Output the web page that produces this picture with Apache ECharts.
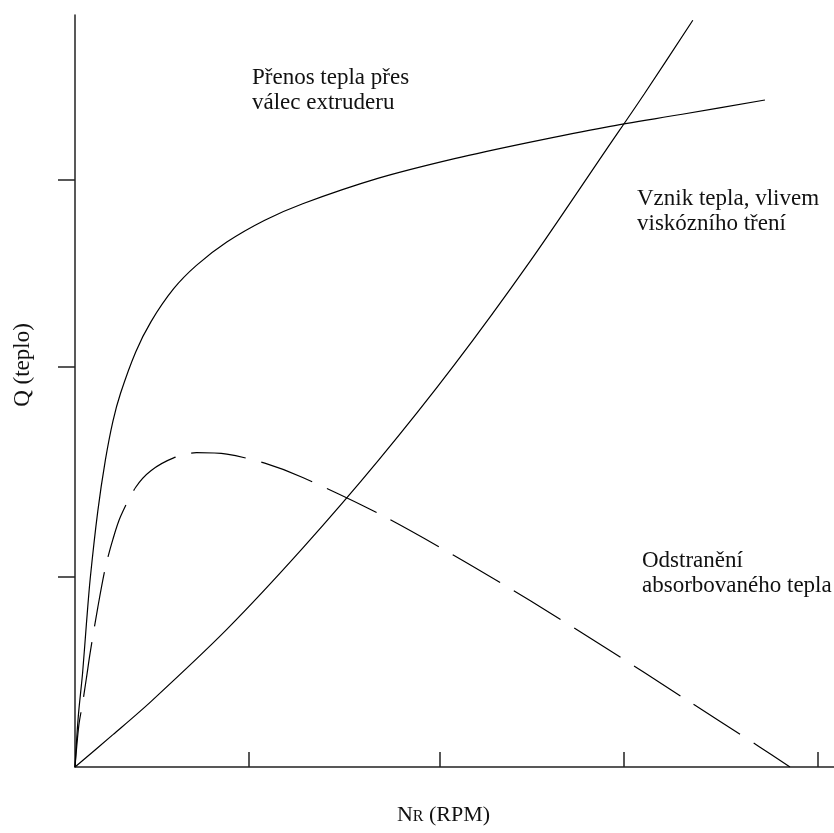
<!DOCTYPE html>
<html>
<head>
<meta charset="utf-8">
<title>Q vs NR</title>
<script src="https://cdn.jsdelivr.net/npm/echarts@6/dist/echarts.min.js"></script>
<style>
  html, body { margin: 0; padding: 0; background: #fff; }
  #chart { width: 834px; height: 833px; }
</style>
</head>
<body>
<div id="chart"></div>
<script>
// values, relative units 0..100 on both axes
var prenosX = [0, 0.25, 0.5, 1, 1.5, 2, 3, 4, 5, 6, 8, 10, 13, 16, 20, 25, 30, 40, 50, 60, 70, 80, 90.9];
var prenosY = [0, 4.2, 7.5, 12.5, 19.0, 25.0, 34.0, 40.8, 46.0, 49.7, 55.2, 59.2, 63.6, 66.7, 69.8, 72.7, 74.9, 78.3, 80.9, 83.1, 85.1, 86.8, 88.7];

var vznikX = [0, 5, 10, 20, 30, 40, 50, 60, 70, 75, 81.4];
var vznikY = [0, 4.3, 8.7, 18.3, 29.1, 40.8, 53.5, 67.3, 82.1, 89.5, 99.3];

var odstrX = [0, 0.5, 1, 1.5, 2, 3, 4, 5, 6, 8, 10, 13, 16, 20, 25, 30, 40, 50, 60, 70, 80, 90, 94.2];
var odstrY = [0, 5.5, 8.5, 11.8, 15.2, 21.2, 26.5, 30.3, 33.3, 37.2, 39.4, 41.1, 41.8, 41.6, 40.4, 38.5, 33.7, 28.1, 22.1, 15.8, 9.3, 2.8, 0];

// tick positions (no labels in the original)
var xTicks = [22.9, 48.1, 72.3, 97.8];
var yTicks = [25.3, 53.2, 78.1];

var labels = [
  { text: 'Přenos tepla přes\nválec extruderu', left: 252, top: 65 },
  { text: 'Vznik tepla, vlivem\nviskózního tření', left: 637, top: 186 },
  { text: 'Odstranění\nabsorbovaného tepla', left: 642, top: 548 }
];

var serif = '"Liberation Serif", "Times New Roman", serif';

function pairs(xs, ys) {
  var out = [];
  for (var i = 0; i < xs.length; i++) out.push([xs[i], ys[i]]);
  return out;
}

var chart = echarts.init(document.getElementById('chart'));

chart.setOption({
  backgroundColor: '#fff',
  animation: false,
  grid: { left: 75, right: 0, top: 15, bottom: 66 },
  xAxis: {
    type: 'value',
    min: 0,
    max: 100,
    name: '{n|N}{r|R}{n| (RPM)}',
    nameLocation: 'middle',
    nameGap: 37,
    nameTextStyle: {
      padding: [0, 22, 0, 0],
      rich: {
        n: { fontFamily: serif, fontSize: 22, color: '#111' },
        r: { fontFamily: serif, fontSize: 16, color: '#111', padding: [4, 0, 0, 0] }
      }
    },
    axisLine: { lineStyle: { color: '#222', width: 1.5 } },
    axisTick: { show: true, inside: true, length: 15, customValues: xTicks, lineStyle: { color: '#222', width: 1.5 } },
    axisLabel: { show: false },
    splitLine: { show: false }
  },
  yAxis: {
    type: 'value',
    min: 0,
    max: 100,
    name: 'Q (teplo)',
    nameLocation: 'middle',
    nameGap: 41,
    nameTextStyle: { fontFamily: serif, fontSize: 23, color: '#111', padding: [0, 0, 0, 52] },
    axisLine: { show: true, lineStyle: { color: '#222', width: 1.5 } },
    axisTick: { show: true, inside: false, length: 17, customValues: yTicks, lineStyle: { color: '#222', width: 1.5 } },
    axisLabel: { show: false },
    splitLine: { show: false }
  },
  series: [
    {
      name: 'Přenos tepla přes válec extruderu',
      type: 'line',
      data: pairs(prenosX, prenosY),
      showSymbol: false,
      smooth: 0.3,
      lineStyle: { color: '#000', width: 1.2 }
    },
    {
      name: 'Vznik tepla, vlivem viskózního tření',
      type: 'line',
      data: pairs(vznikX, vznikY),
      showSymbol: false,
      smooth: 0.3,
      lineStyle: { color: '#000', width: 1.2 }
    },
    {
      name: 'Odstranění absorbovaného tepla',
      type: 'line',
      data: pairs(odstrX, odstrY),
      showSymbol: false,
      smooth: 0.3,
      lineStyle: { color: '#000', width: 1.2, type: [55, 16] }
    }
  ],
  graphic: labels.map(function (l) {
    return {
      type: 'text',
      left: l.left,
      top: l.top,
      style: { text: l.text, fontFamily: serif, fontSize: 23, lineHeight: 25, fill: '#111' }
    };
  })
});
</script>
</body>
</html>
